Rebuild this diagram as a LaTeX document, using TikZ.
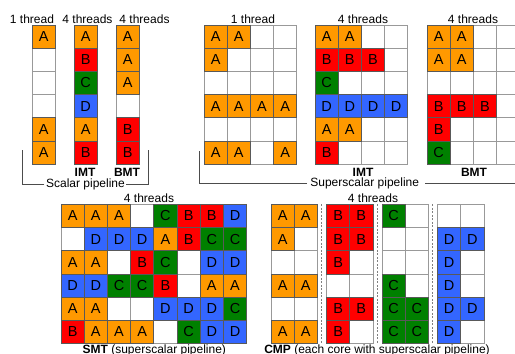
\documentclass[tikz,border=0pt]{standalone}
\usepackage{fontspec}
\setmainfont{Liberation Sans}
\usepackage{tikz}
\definecolor{ThrA}{HTML}{FF9900}
\definecolor{ThrB}{HTML}{FF0000}
\definecolor{ThrC}{HTML}{008000}
\definecolor{ThrD}{HTML}{3366FF}

\newcommand\slotgrid[4]{%
  \foreach \rowlist [count=\rw] in {#4} {
    \foreach \thr [count=\cl] in \rowlist {
      \if\thr o
        \node[slot] (#1-\rw-\cl) at ({#2+(\cl-0.5)*23.2},{#3+(\rw-0.5)*23.2}) {};
      \fi
    }
  }
  \foreach \rowlist [count=\rw] in {#4} {
    \foreach \thr [count=\cl] in \rowlist {
      \if\thr o\else
        \node[slot, thr\thr] (#1-\rw-\cl) at ({#2+(\cl-0.5)*23.2},{#3+(\rw-0.5)*23.2}) {\thr};
      \fi
    }
  }%
}

\begin{document}
\begin{tikzpicture}[x=1pt, y=-1pt, font=\fontsize{12}{14}\selectfont,
  slot/.style={draw=black!40, fill=white, line width=0.8pt, minimum size=23.2pt,
    inner sep=0pt, font=\fontsize{14.5}{16}\selectfont},
  thrA/.style={fill=ThrA, draw=black!65},
  thrB/.style={fill=ThrB, draw=black!65},
  thrC/.style={fill=ThrC, draw=black!65},
  thrD/.style={fill=ThrD, draw=black!65},
  lbl/.style={anchor=base, inner sep=0pt},
  bracket/.style={draw=black!70, line width=0.8pt},
  coresep/.style={draw=black!50, dash pattern=on 2pt off 1.5pt, line width=0.6pt}]
  \clip (0,0) rectangle (515,354);

  \slotgrid{sc1}{32}{25}{{A},{o},{o},{o},{A},{A}}
  \slotgrid{scimt}{74}{25}{{A},{B},{C},{D},{A},{B}}
  \slotgrid{scbmt}{116}{25}{{A},{A},{A},{o},{B},{B}}

  \slotgrid{ss1}{204}{25}{{A,A,o,o},{A,o,o,o},{o,o,o,o},{A,A,A,A},{o,o,o,o},{A,A,o,A}}
  \slotgrid{ssimt}{315}{25}{{A,A,o,o},{B,B,B,o},{C,o,o,o},{D,D,D,D},{A,A,o,o},{B,o,o,o}}
  \slotgrid{ssbmt}{427}{25}{{A,A,o,o},{A,A,o,o},{o,o,o,o},{B,B,B,o},{B,o,o,o},{C,o,o,o}}

  \slotgrid{smt}{61}{204.3}{{A,A,A,o,C,B,B,D},{o,D,D,D,A,B,C,C},{A,A,o,B,C,o,D,D},{D,D,C,C,B,o,A,A},{A,A,o,o,D,D,D,C},{B,A,A,A,o,C,D,D}}

  \slotgrid{cmpa}{271}{204.3}{{A,A},{A,o},{o,o},{A,A},{o,o},{A,A}}
  \slotgrid{cmpb}{326.5}{204.3}{{B,B},{B,B},{B,o},{o,o},{B,B},{B,o}}
  \slotgrid{cmpc}{382}{204.3}{{C,o},{o,o},{o,o},{C,o},{C,C},{C,C}}
  \slotgrid{cmpd}{437.5}{204.3}{{o,o},{D,D},{D,o},{D,o},{D,D},{D,o}}
  \draw[coresep] (321.7,204.3) -- (321.7,343.5);
  \draw[coresep] (377.3,204.3) -- (377.3,343.5);
  \draw[coresep] (432.6,204.3) -- (432.6,343.5);

  \node[lbl] (t-sc1) at (32,23.5) {1 thread};
  \node[lbl] (t-scimt) at (87.5,23.5) {4 threads};
  \node[lbl] (t-scbmt) at (144.5,23.5) {4 threads};
  \node[lbl] (t-ss1) at (253,23.5) {1 thread};
  \node[lbl] (t-ssimt) at (363,23.5) {4 threads};
  \node[lbl] (t-ssbmt) at (473,23.5) {4 threads};
  \node[lbl] (n-scimt) at (85,176.7) {\bfseries IMT};
  \node[lbl] (n-scbmt) at (127,176.7) {\bfseries BMT};
  \node[lbl] (n-ssimt) at (363,176.7) {\bfseries IMT};
  \node[lbl] (n-ssbmt) at (474,176.7) {\bfseries BMT};
  \node[lbl] (t-scalar) at (85.5,187.3) {Scalar pipeline};
  \node[lbl] (t-super) at (364.7,186.7) {Superscalar pipeline};
  \draw[bracket] ([xshift=-1.5pt]t-scalar.west) -| (22.7,150);
  \draw[bracket] ([xshift=1pt]t-scalar.east) -| (148.3,150);
  \draw[bracket] ([xshift=-3pt]t-super.west) -| (199,151);
  \draw[bracket] ([xshift=6pt]t-super.east) -| (520,151);

  \node[lbl] (t-smt) at (149,202) {4 threads};
  \node[lbl] (t-cmp) at (373,202) {4 threads};
  \node[lbl] (n-smt) at (154.3,353.5) {\bfseries SMT\mdseries{} (superscalar pipeline)};
  \node[lbl] (n-cmp) at (377,353.5) {\bfseries CMP\mdseries{} (each core with superscalar pipeline)};
\end{tikzpicture}
\end{document}
